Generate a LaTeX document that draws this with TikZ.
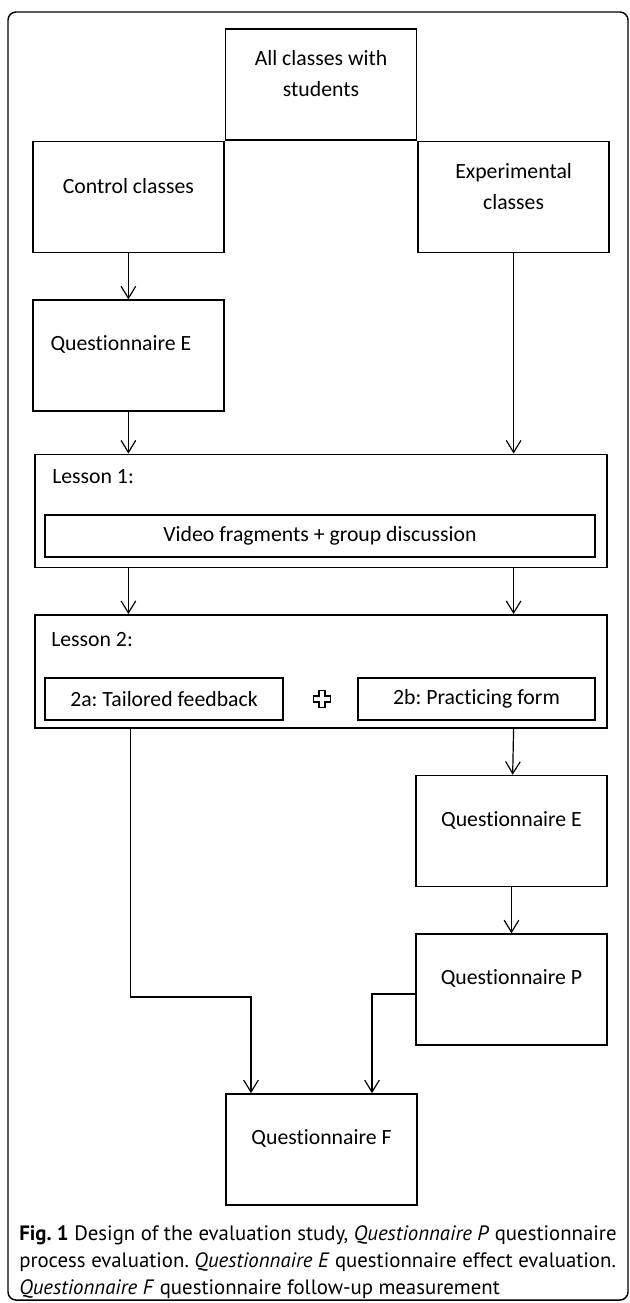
\documentclass[tikz,border=0pt]{standalone}
\usepackage{fontspec}
\setmainfont{Carlito}[Ligatures=NoCommon]
\newfontfamily\capfont{PT Sans}[Ligatures=NoCommon]
\usetikzlibrary{arrows.meta,positioning}
\newcommand{\boxfont}{\fontsize{16.3}{23.25}\selectfont}
\frenchspacing

\begin{document}
\begin{tikzpicture}[x=0.75pt,y=-0.75pt,>={Straight Barb[length=9pt,width=11pt]},
  link/.style={->,line width=0.9pt},
  box/.style={draw,line width=1.2pt,inner sep=0pt,minimum width=143.25pt,minimum height=83.25pt,font=\boxfont},
  lesson/.style={draw,line width=1.2pt,inner sep=0pt,minimum width=429pt,minimum height=85pt},
  part/.style={draw,line width=1.2pt,inner sep=0pt,minimum height=31.5pt,font=\boxfont},
  up/.style={inner sep=0pt,yshift=8.25pt,align=center,font=\boxfont},
  txt/.style={inner sep=0pt,font=\boxfont},
  figcap/.style={inner sep=0pt,font=\capfont\fontsize{15.6}{20}\selectfont}]
  \useasboundingbox (0,0) rectangle (629,1303);
  \draw[line width=1.1pt,rounded corners=6pt] (8,12) rectangle (628,1300);

  \node[box,label={[up]center:All classes with\\students}] (all) at (321,84.5) {};
  \node[box,below left=0pt of all.south west,label={[up]center:Control classes}] (ctrl) {};
  \node[box,below right=0pt of all.south east,label={[up]center:Experimental\\classes}] (exp) {};
  \node[box,below=34.5pt of ctrl,label={[up,xshift=-5.6pt]center:Questionnaire E}] (qe1) {};

  \node[lesson] (les1) at (321,511) {};
  \node[txt,anchor=west] (les1t) at (52,477) {Lesson 1:};
  \node[part,minimum width=412.5pt] (vid) at (320,536) {Video fragments + group discussion};

  \node[lesson] (les2) at (321,671.5) {};
  \node[txt,anchor=west] (les2t) at (51,640) {Lesson 2:};
  \node[part,minimum width=178.5pt] (fb) at (164,699) {2a: Tailored feedback};
  \node[part,minimum width=177.75pt] (pf) at (476.5,699) {2b: Practicing form};
  \coordinate (plus) at (322,699);
  \draw[line width=1.1pt,shift={(plus)}] (-3,-8.5) -- (3,-8.5) -- (3,-3) -- (8.5,-3) -- (8.5,3) -- (3,3) -- (3,8.5) -- (-3,8.5) -- (-3,3) -- (-8.5,3) -- (-8.5,-3) -- (-3,-3) -- cycle;

  \node[box,label={[up]center:Questionnaire E}] (qe2) at (511.5,831) {};
  \node[box,below=34.5pt of qe2,label={[up]center:Questionnaire P}] (qp) {};
  \node[box,label={[up]center:Questionnaire F}] (qf) at (321.5,1149.5) {};

  \draw[link] (ctrl) -- (qe1);
  \draw[link] (qe1) -- (qe1 |- les1.north);
  \draw[link] (exp) -- (exp |- les1.north);
  \draw[link] (qe1 |- les1.south) -- (qe1 |- les2.north);
  \draw[link] (exp |- les1.south) -- (exp |- les2.north);
  \draw[link] (exp |- les2.south) -- (qe2);
  \draw[link] (qe2) -- (qp);
  \coordinate (fbjoin) at (251,997);
  \coordinate (qpjoin) at (372,994);
  \draw[link] ([xshift=1.5pt]les2.south -| qe1) |- (fbjoin) -- (fbjoin |- qf.north);
  \draw[link] (qp.west |- qpjoin) -| (qpjoin |- qf.north);

  \node[figcap,anchor=base west] (cap1) at (19,1240) {\textbf{Fig. 1} Design of the evaluation study, \textit{Questionnaire P} questionnaire};
  \node[figcap,anchor=base west] (cap2) at (19,1267) {process evaluation. \textit{Questionnaire E} questionnaire effect evaluation.};
  \node[figcap,anchor=base west] (cap3) at (19,1294) {\textit{Questionnaire F} questionnaire follow-up measurement};
\end{tikzpicture}
\end{document}
